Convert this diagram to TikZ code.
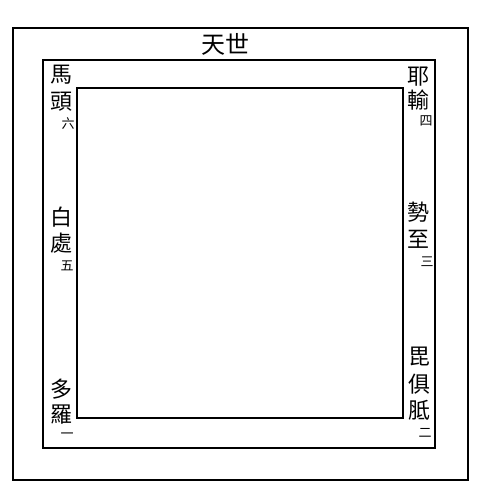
\documentclass[tikz,border=0pt]{standalone}
\usepackage{fontspec}
\newfontfamily\cjk{Noto Sans CJK TC}
\begin{document}
\begin{tikzpicture}[x=1pt, y=-1pt]
    \tikzstyle{frame} = [line width = 1.1pt];
    \tikzstyle{glyph} = [inner sep = 0pt, font = \cjk\fontsize{22}{22}\selectfont];
    \tikzstyle{num} = [inner sep = 0pt, font = \cjk\fontsize{13}{13}\selectfont];
    \useasboundingbox (0,0) rectangle (481,496);
    % three frames
    \draw[frame] (13,28) rectangle (468,480);
    \draw[frame] (43,60) rectangle (435,448);
    \draw[frame] (77,88) rectangle (403,418);
    \node[inner sep = 0pt, font = \cjk\fontsize{24}{24}\selectfont] (title) at (225,44) {天世};
    % names, one glyph per node
    \foreach \t/\x/\y [count=\i] in {馬/61/75, 頭/61/102, 白/61/217, 處/61/243, 多/61/389, 羅/61/415,
        耶/418/77, 輸/418/100, 勢/418/212, 至/418/239, 毘/419/356, 俱/419/384, 胝/419/410}
    {\node[glyph] (g\i) at (\x,\y) {\t};}
    \foreach \t/\x/\y [count=\i] in {六/68/124, 五/67/266, 一/67/436, 四/426/121, 三/427/262, 二/425/433}
    {\node[num] (n\i) at (\x,\y) {\t};}
\end{tikzpicture}
\end{document}
